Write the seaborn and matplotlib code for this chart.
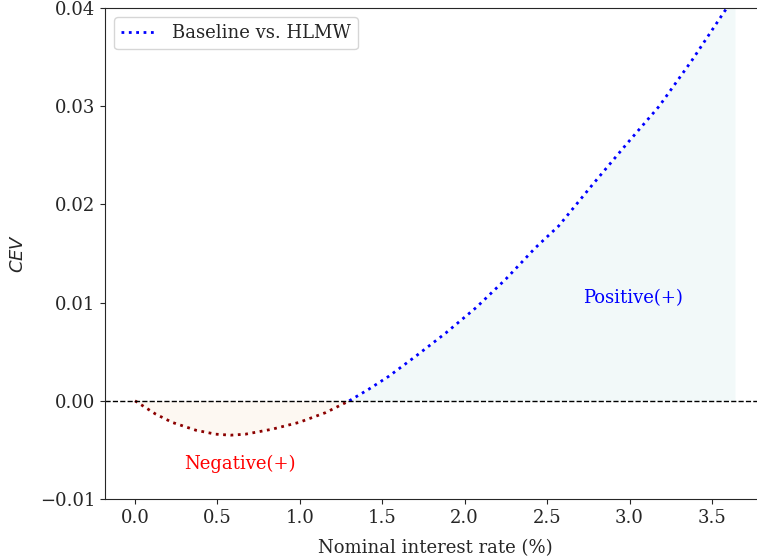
import numpy as np
import pandas as pd
import matplotlib
matplotlib.use('Agg')
import matplotlib.pyplot as plt
import seaborn as sns

# --- data ---
neg_rate = [0.0, 0.125, 0.226, 0.37, 0.49, 0.58, 0.67, 0.83, 0.995, 1.157, 1.30]
neg_cev = [0.0, -0.00135, -0.0022, -0.0030, -0.0034, -0.0035, -0.0034, -0.0029, -0.0022, -0.0012, 0.0]

pos_rate = [1.30, 1.42, 1.54, 1.70, 1.885, 2.07, 2.25, 2.43, 2.57, 2.775, 2.98, 3.18, 3.38, 3.57, 3.64]
pos_cev = [0.0, 0.0012, 0.0025, 0.0045, 0.0069, 0.0095, 0.0124, 0.0156, 0.0178, 0.0220, 0.0261, 0.0300, 0.0347, 0.0395, 0.0412]

legend_label = 'Baseline vs. HLMW'

df_neg = pd.DataFrame({'rate': neg_rate, 'cev': neg_cev})
df_pos = pd.DataFrame({'rate': pos_rate, 'cev': pos_cev})

sns.set_style('ticks')
plt.rcParams['font.family'] = ['DejaVu Serif']
plt.rcParams['font.size'] = 13

fig = plt.figure(figsize=(7.57, 5.6), dpi=100)
ax = fig.add_axes([105 / 757, 1 - 499 / 560, 660 / 757, 491 / 560])

ax.fill_between(df_neg['rate'], df_neg['cev'], 0, color='#fdf3e7', alpha=0.5, lw=0)
ax.fill_between(df_pos['rate'], df_pos['cev'], 0, color='#e6f4f4', alpha=0.5, lw=0)

sns.lineplot(data=df_neg, x='rate', y='cev', ax=ax, color='darkred', linestyle=':', lw=2)
sns.lineplot(data=df_pos, x='rate', y='cev', ax=ax, color='blue', linestyle=':', lw=2,
             label=legend_label)
ax.axhline(0, color='black', linestyle='--', lw=1)

ax.text(2.72, 0.0105, 'Positive(+)', color='blue', va='center', fontsize=13)
ax.text(0.30, -0.0064, 'Negative(+)', color='red', va='center', fontsize=13)

ax.set_xlim(-0.182, 3.822)
ax.set_ylim(-0.01, 0.04)
ax.set_xticks(np.arange(0, 3.6, 0.5))
ax.set_yticks([-0.01, 0.0, 0.01, 0.02, 0.03, 0.04])
ax.tick_params(labelsize=13)
ax.set_xlabel('Nominal interest rate (%)', fontsize=13, labelpad=9)
ax.set_ylabel('$CEV$', fontsize=13, labelpad=9)
ax.legend(loc='upper left', fontsize=13)

fig.savefig('out.png', dpi=100)
